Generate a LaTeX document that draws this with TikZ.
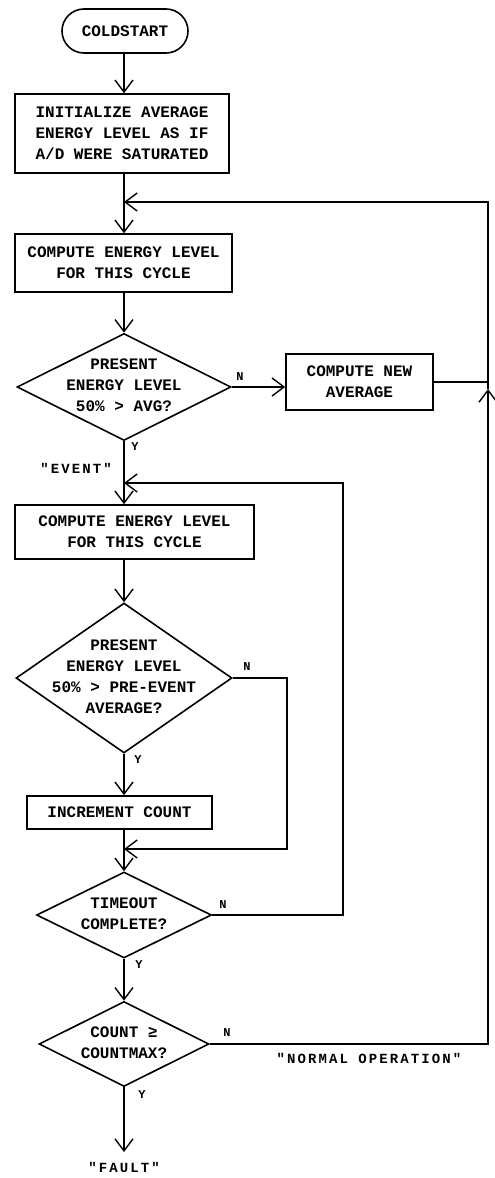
\documentclass[tikz,border=0pt]{standalone}
\usepackage{fontspec}
\setmainfont{Liberation Mono}
\newfontfamily\lblfont{Liberation Mono}[LetterSpace=15]
\usetikzlibrary{shapes.geometric,arrows.meta}
\newcommand\dtxt[1]{\makebox[0pt]{\smash{\raisebox{-4pt}{\begin{tabular}{@{}c@{}}#1\end{tabular}}}}}
\begin{document}
\begin{tikzpicture}[x=1pt,y=-1pt,
  every node/.style={font=\bfseries\fontsize{16}{21}\selectfont},
  ln/.style={line width=1.6pt},
  arr/.style={ln,-{Straight Barb[length=12pt,width=18pt,line width=1.4pt]}},
  box/.style={draw,ln,rectangle,align=center,inner sep=0pt},
  dec/.style={draw,ln,diamond,inner sep=0pt},
  term/.style={draw,ln,rectangle,rounded corners=22pt},
  yn/.style={font=\bfseries\fontsize{12}{14}\selectfont,inner sep=0pt},
  lbl/.style={font=\lblfont\bfseries\fontsize{14}{16}\selectfont,inner sep=0pt}]
\useasboundingbox (0,0) rectangle (495,1178);
% nodes
\node[term,minimum width=126pt,minimum height=44pt] (start) at (125,31) {COLDSTART};
\node[box,minimum width=214pt,minimum height=79pt] (init) at (122,133.5) {INITIALIZE AVERAGE\\ENERGY LEVEL AS IF\\A/D WERE SATURATED};
\node[box,minimum width=217pt,minimum height=58pt] (cyc1) at (123.5,263) {COMPUTE ENERGY LEVEL\\FOR THIS CYCLE};
\node[dec,minimum width=214pt,minimum height=107pt] (d1) at (124,387) {\dtxt{PRESENT\\ENERGY LEVEL\\50\% > AVG?}};
\node[box,minimum width=147pt,minimum height=56pt] (avg) at (359.5,382) {COMPUTE NEW\\AVERAGE};
\node[box,minimum width=239pt,minimum height=54pt] (cyc2) at (134.5,532) {COMPUTE ENERGY LEVEL\\FOR THIS CYCLE};
\node[dec,minimum width=216pt,minimum height=150pt] (d2) at (124,678) {\dtxt{PRESENT\\ENERGY LEVEL\\50\% > PRE-EVENT\\AVERAGE?}};
\node[box,minimum width=185pt,minimum height=33pt] (inc) at (119.5,812.5) {INCREMENT COUNT};
\node[dec,minimum width=175pt,minimum height=86pt] (d3) at (124,915) {\dtxt{TIMEOUT\\COMPLETE?}};
\node[dec,minimum width=170pt,minimum height=85pt] (d4) at (124,1044) {\dtxt{COUNT ≥\\COUNTMAX?}};
\node[lbl,anchor=north,inner ysep=10pt] (fault) at (124,1152) {"FAULT"};
% labels
\node[yn] (n1) at (240,377) {N};
\node[yn] (y1) at (135,447) {Y};
\node[lbl] (event) at (76,468) {"EVENT"};
\node[yn] (n2) at (247,667) {N};
\node[yn] (y2) at (138,760) {Y};
\node[yn] (n3) at (223,905) {N};
\node[yn] (y3) at (139,965) {Y};
\node[yn] (n4) at (227,1033) {N};
\node[yn] (y4) at (142,1095) {Y};
\node[lbl] (normal) at (369,1058) {"NORMAL OPERATION"};
% coordinates
\coordinate (col) at (124,0);
\coordinate (m1) at (124,202);
\coordinate (m2) at (124,483);
\coordinate (m3) at (124,849);
\coordinate (rt) at (488,202);
\coordinate (ra) at (488,389);
\coordinate (rb) at (488,1044);
\coordinate (n2a) at (287,678);
\coordinate (n2b) at (287,849);
\coordinate (n3a) at (343,915);
\coordinate (n3b) at (343,483);
% connectors
\draw[arr] (start.south -| col) -- (init.north -| col);
\draw[arr] (init.south -| col) -- (cyc1.north -| col);
\draw[arr] (cyc1.south -| col) -- (d1.north);
\draw[arr] (d1.east) -- (d1.east -| avg.west);
\draw[ln] (avg.east) -- (avg.east -| rt);
\draw[arr] (d4.east) -- (rb) -- (ra);
\draw[arr] (ra) -- (rt) -- (m1);
\draw[arr] (d1.south) -- (cyc2.north -| col);
\draw[arr] (cyc2.south -| col) -- (d2.north);
\draw[arr] (d2.south) -- (inc.north -| col);
\draw[arr] (d2.east) -- (n2a) -- (n2b) -- (m3);
\draw[arr] (inc.south -| col) -- (d3.north);
\draw[arr] (d3.east) -- (n3a) -- (n3b) -- (m2);
\draw[arr] (d3.south) -- (d4.north);
\draw[arr] (d4.south) -- (fault.north);
\end{tikzpicture}
\end{document}
